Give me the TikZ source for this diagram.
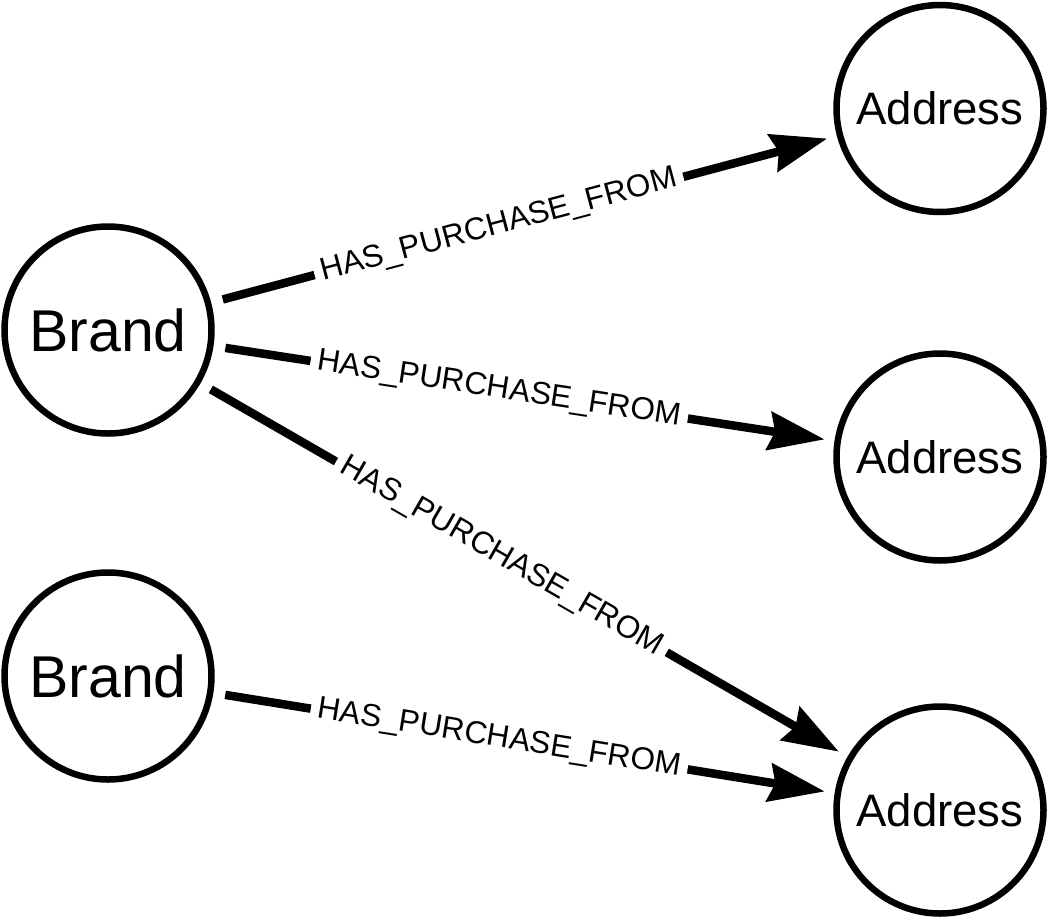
\documentclass[tikz,border=0pt]{standalone}
\usepackage{fontspec}
\setmainfont{Liberation Sans}
\usetikzlibrary{arrows.meta}
\begin{document}
\begin{tikzpicture}[x=1pt,y=-1pt,
  ent/.style={circle,draw,line width=6.5pt,minimum size=207pt,inner sep=0pt},
  rel/.style={line width=8.5pt,-{Stealth[length=56pt,width=38pt,inset=6pt]},shorten <=12pt,shorten >=10pt},
  lbl/.style={fill=white,sloped,inner xsep=7pt,inner ysep=3pt,font=\fontsize{31.5}{34}\selectfont},
  bigtxt/.style={font=\fontsize{59}{62}\selectfont},
  midtxt/.style={font=\fontsize{45.5}{48}\selectfont}]
\fill[white] (0,0) rectangle (1048,921);
\useasboundingbox (0,0) rectangle (1048,921);
\node[ent,bigtxt] (b1) at (108,330) {Brand};
\node[ent,bigtxt] (b2) at (108,676) {Brand};
\node[ent,midtxt] (a1) at (940,108.5) {Address};
\node[ent,midtxt] (a2) at (940,457) {Address};
\node[ent,midtxt] (a3) at (940,810) {Address};
\draw[rel] (b1) -- node[lbl,pos=0.46]{HAS\_PURCHASE\_FROM} (a1);
\draw[rel] (b1) -- node[lbl,pos=0.46]{HAS\_PURCHASE\_FROM} (a2);
\draw[rel] (b1) -- node[lbl,pos=0.465]{HAS\_PURCHASE\_FROM} (a3);
\draw[rel] (b2) -- node[lbl,pos=0.46]{HAS\_PURCHASE\_FROM} (a3);
\end{tikzpicture}
\end{document}
